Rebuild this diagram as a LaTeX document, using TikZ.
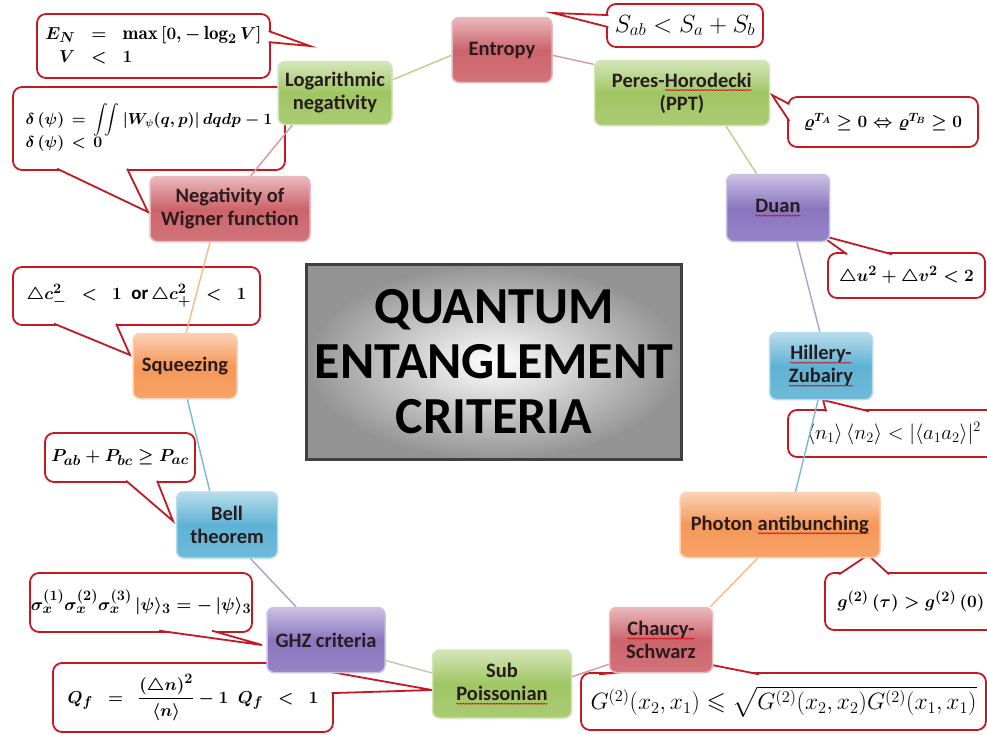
\documentclass[tikz,border=0pt]{standalone}
\usepackage{amsmath,amssymb}
\usepackage{graphicx}
\usepackage{fontspec}
\usetikzlibrary{calc,decorations.pathmorphing}
\newfontfamily\carl{Carlito}
\pgfdeclarelayer{bg}
\pgfsetlayers{bg,main}
\definecolor{nred}{RGB}{205,100,108}
\definecolor{ngreen}{RGB}{160,198,100}
\definecolor{npurple}{RGB}{138,118,192}
\definecolor{nblue}{RGB}{95,178,212}
\definecolor{norange}{RGB}{246,152,88}
\definecolor{textdark}{RGB}{40,28,30}
\definecolor{cdred}{RGB}{195,25,35}
\definecolor{lgreen}{RGB}{185,208,140}
\definecolor{lpink}{RGB}{222,150,158}
\definecolor{lpurple}{RGB}{170,160,210}
\definecolor{lblue}{RGB}{120,185,212}
\definecolor{lorange}{RGB}{246,185,135}
\definecolor{lgray}{RGB}{190,200,170}
\newcommand\sqg[1]{\tikz[baseline=(sqw.base)]{\node[inner sep=0pt,outer sep=0pt,minimum width=0pt,minimum height=0pt,draw=none,fill=none](sqw){#1};\draw[sharp corners,red!80!black,line width=0.6pt,decorate,decoration={snake,amplitude=0.6pt,segment length=3pt}] ([yshift=-3pt]sqw.base west) -- ([yshift=-3pt]sqw.base east);}}
\newcommand\cptr[3]{\fill[white] #1 -- #2 -- #3 -- cycle; \draw[cline] #1 -- #2 -- #3;}
\begin{document}
\begin{tikzpicture}[x=1pt,y=-1pt,
  crit/.style={rounded corners=7pt, line width=1.5pt, align=center, inner sep=1pt, text=textdark, font=\carl\bfseries\fontsize{20.5}{23}\selectfont},
  cr/.style={crit, draw=nred!45!white, top color=nred!45!white, bottom color=nred!90!white, middle color=nred},
  cg/.style={crit, draw=ngreen!45!white, top color=ngreen!45!white, bottom color=ngreen!90!white, middle color=ngreen},
  cp/.style={crit, draw=npurple!45!white, top color=npurple!45!white, bottom color=npurple!90!white, middle color=npurple},
  cb/.style={crit, draw=nblue!45!white, top color=nblue!45!white, bottom color=nblue!90!white, middle color=nblue},
  co/.style={crit, draw=norange!45!white, top color=norange!45!white, bottom color=norange!90!white, middle color=norange},
  box/.style 2 args={minimum width=#1, minimum height=#2},
  title/.style={draw=black!75, line width=3pt, shading=radial, inner color=white, outer color=black!42, minimum width=375, minimum height=195, align=center, text=black, font=\carl\bfseries\fontsize{52}{55}\selectfont},
  call/.style={draw=cdred, line width=1.8pt, fill=white, rounded corners=9pt, inner sep=0pt, font=\fontsize{19}{23}\selectfont\boldmath},
  cline/.style={draw=cdred, line width=1.8pt, line join=miter},
  link/.style={line width=1.4pt}
]
\useasboundingbox (0,0) rectangle (987,734);
% ---------------- criteria nodes
\node[cr, box={100}{65}] (entropy) at (502,50) {Entropy};
\node[cg, box={114}{63}] (logneg) at (335,93) {Logarithmic\\negativity};
\node[cg, box={175}{65}] (ppt) at (682,93) {Peres-\sqg{Horodecki}\\(PPT)};
\node[cp, box={103}{67}] (duan) at (778,208) {\sqg{Duan}};
\node[cr, box={160}{65}] (negw) at (230,209) {Negativity of\\Wigner function};
\node[cb, box={103}{67}] (hill) at (821,366) {\sqg{Hillery-}\\\sqg{Zubairy}};
\node[co, box={104}{65}] (squeeze) at (185,366) {Squeezing};
\node[co, box={200}{65}] (photon) at (780,525) {Photon \sqg{antibunching}};
\node[cb, box={101}{66}] (bell) at (227,525) {Bell\\theorem};
\node[cp, box={118}{65}] (ghz) at (326,640) {GHZ criteria};
\node[cr, box={103}{65}] (chaucy) at (661,640) {\sqg{Chaucy-}\\Schwarz};
\node[cg, box={139}{68}] (sub) at (502,684) {Sub\\\sqg{Poissonian}};
\node[title] (qec) at (494,362) {QUANTUM\\ENTANGLEMENT\\CRITERIA};
% ---------------- ring connectors
\draw[link, lgreen] (logneg.13) -- (entropy.186);
\draw[link, lpink] (entropy.-6) -- (ppt.162);
\draw[link, lgreen] (ppt.-37) -- (duan.122);
\draw[link, lpurple] (duan.-61) -- (hill.92);
\draw[link, lblue] (hill.-95) -- (photon.65);
\draw[link, lorange] (photon.-124) -- (chaucy.34);
\draw[link, lpink] (chaucy.205) -- (sub.6);
\draw[link, lgray] (sub.171) -- (ghz.-19);
\draw[link, lpurple] (ghz.132) -- (bell.-55);
\draw[link, lblue] (bell.117) -- (squeeze.-86);
\draw[link, lorange] (squeeze.88) -- (negw.-121);
\draw[link, lpink] (negw.58) -- (logneg.217);
% ---------------- callouts
\begin{pgfonlayer}{bg}
\fill[white] (0,0) rectangle (987,734);
\node[call, box={233}{64}] (cEN) at (153.5,46) {$\arraycolsep=8pt\begin{array}{rcl}E_N&=&\max\,[0,-\log_2V]\\V&<&1\end{array}$};
\coordinate (tEN) at (310,46);
\cptr{($(cEN.north east)+(-2.2,18)$)}{(tEN)}{($(cEN.north east)+(-2.2,29)$)}
\node[call, box={156}{43}, font=\fontsize{24}{28}\selectfont] (cSab) at (685,25.5) {$S_{ab}<S_a+S_b$};
\coordinate (tSab) at (553,13);
\cptr{($(cSab.north west)+(2.2,12)$)}{(tSab)}{($(cSab.north west)+(2.2,24)$)}
\node[call, box={190}{50}, font=\fontsize{18}{22}\selectfont\boldmath] (cPPT) at (883,122) {$\varrho^{T_A}\geq 0\Leftrightarrow\varrho^{T_B}\geq 0$};
\coordinate (tPPT) at (772,95);
\cptr{($(cPPT.north west)+(2.2,8)$)}{(tPPT)}{($(cPPT.north west)+(2.2,25)$)}
\node[call, box={157}{45}] (cDuan) at (906.5,275.5) {$\triangle u^2+\triangle v^2<2$};
\coordinate (tDuan) at (820,235);
\cptr{($(cDuan.north west)+(20,2.2)$)}{(tDuan)}{($(cDuan.north west)+(65,2.2)$)}
\node[call, box={272}{83}, font=\fontsize{16}{20}\selectfont\boldmath] (cDelta) at (149,128.5) {\resizebox{254pt}{!}{$\arraycolsep=4pt\begin{array}{rcl}\delta\,(\psi)&=&\displaystyle\int\!\!\int|W_\psi(q,p)|\,dqdp-1\\[-2pt]\delta\,(\psi)&<&0\end{array}$}};
\coordinate (tDelta) at (148,212);
\cptr{($(cDelta.south west)+(45,-2.2)$)}{(tDelta)}{($(cDelta.south west)+(115,-2.2)$)}
\node[call, box={247}{58}] (cSq) at (136.5,296) {$\triangle c^2_{-}\enspace<\enspace 1$\enspace{\carl\bfseries or}\,$\triangle c^2_{+}\enspace<\enspace1$};
\coordinate (tSq) at (130,355);
\cptr{($(cSq.south west)+(42,-2.2)$)}{(tSq)}{($(cSq.south west)+(104,-2.2)$)}
\node[call, box={212}{47}, font=\fontsize{20}{24}\selectfont] (cHill) at (894,433.5) {$\langle n_1\rangle\,\langle n_2\rangle<|\langle a_1a_2\rangle|^2$};
\coordinate (tHill) at (823,400);
\cptr{($(cHill.north west)+(39,2.2)$)}{(tHill)}{($(cHill.north west)+(82,2.2)$)}
\node[call, box={172}{57}] (cPhot) at (911,601.5) {$g^{(2)}\,(\tau)>g^{(2)}\,(0)$};
\coordinate (tPhot) at (868,555);
\cptr{($(cPhot.north west)+(15,2.2)$)}{(tPhot)}{($(cPhot.north west)+(65,2.2)$)}
\node[call, box={150}{49}] (cBell) at (120,457.5) {$P_{ab}+P_{bc}\geq P_{ac}$};
\coordinate (tBell) at (173,521);
\cptr{($(cBell.south west)+(82,-2.2)$)}{(tBell)}{($(cBell.south west)+(113,-2.2)$)}
\node[call, box={222}{59}] (cGHZ) at (141,602.5) {$\sigma_x^{(1)}\sigma_x^{(2)}\sigma_x^{(3)}\,|\psi\rangle_3=-\,|\psi\rangle_3$};
\coordinate (tGHZ) at (262,645);
\cptr{($(cGHZ.south west)+(130,-2.2)$)}{(tGHZ)}{($(cGHZ.south west)+(183,-2.2)$)}
\node[call, box={280}{69}] (cQf) at (193,697.5) {$Q_f\enspace=\enspace\dfrac{(\triangle n)^2}{\langle n\rangle}-1\enspace Q_f\enspace<\enspace 1$};
\coordinate (tQf) at (432,690);
\cptr{($(cQf.north east)+(-2.2,10)$)}{(tQf)}{($(cQf.north east)+(-2.2,31)$)}
\node[call, box={405}{57}, font=\fontsize{22}{26}\selectfont] (cG) at (783.5,701.5) {\resizebox{386pt}{!}{$G^{(2)}(x_2,x_1)\leqslant\sqrt{G^{(2)}(x_2,x_2)G^{(2)}(x_1,x_1)}$}};
\coordinate (tG) at (707,664);
\cptr{($(cG.north west)+(19,2.2)$)}{(tG)}{($(cG.north west)+(179,2.2)$)}
\end{pgfonlayer}
\end{tikzpicture}
\end{document}
